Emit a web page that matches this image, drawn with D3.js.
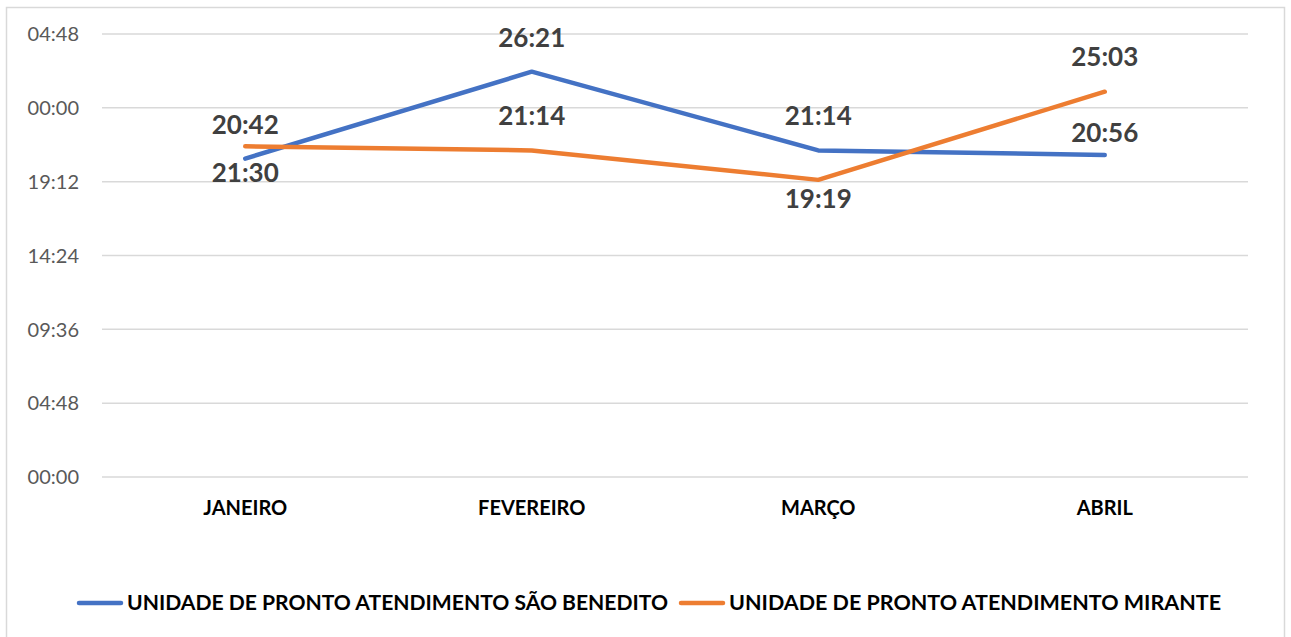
<!DOCTYPE html>
<html>
<head>
<meta charset="utf-8">
<script src="https://cdn.jsdelivr.net/npm/d3@7"></script>
<style>
  body { margin: 0; background: #fff; }
  text { font-family: Lato, "Open Sans", sans-serif; }
</style>
</head>
<body>
<div id="chart"></div>
<script>
const months = ["JANEIRO", "FEVEREIRO", "MARÇO", "ABRIL"];
const saoBenedito = ["20:42", "26:21", "21:14", "20:56"];
const mirante = ["21:30", "21:14", "19:19", "25:03"];
const seriesNames = [
  "UNIDADE DE PRONTO ATENDIMENTO SÃO BENEDITO",
  "UNIDADE DE PRONTO ATENDIMENTO MIRANTE"
];
const tickValues = [0, 288, 576, 864, 1152, 1440, 1728]; // minutes

// label placement per point (Excel had them dragged around a bit)
const labelDy = [
  [-34, -34, -35, -22],
  [26, -35, 19, -35]
];

const width = 1291, height = 637;
const toMin = (s) => {
  const [h, m] = s.split(":").map(Number);
  return h * 60 + m;
};
const fmt = (m) => {
  const h = Math.floor(m / 60) % 24;
  return String(h).padStart(2, "0") + ":" + String(m % 60).padStart(2, "0");
};

const series = [
  { name: seriesNames[0], color: "#4472C4", values: saoBenedito },
  { name: seriesNames[1], color: "#ED7D31", values: mirante }
];

const svg = d3
  .select("#chart")
  .append("svg")
  .attr("width", width)
  .attr("height", height);

svg
  .append("rect")
  .attr("x", 6.5)
  .attr("y", 7.5)
  .attr("width", 1278)
  .attr("height", 640)
  .attr("fill", "#fff")
  .attr("stroke", "#d9d9d9")
  .attr("stroke-width", 1.5);

const x = d3.scaleBand().domain(months).range([102, 1248]);
const y = d3.scaleLinear().domain([0, 1728]).range([477, 34]);

// gridlines
svg
  .append("g")
  .selectAll("line")
  .data(tickValues)
  .enter()
  .append("line")
  .attr("x1", 102)
  .attr("x2", 1248)
  .attr("y1", (d) => y(d))
  .attr("y2", (d) => y(d))
  .attr("stroke", "#d9d9d9")
  .attr("stroke-width", 1.5);

// y tick labels
svg
  .append("g")
  .selectAll("text")
  .data(tickValues)
  .enter()
  .append("text")
  .attr("x", 79)
  .attr("y", (d) => y(d))
  .attr("dy", "0.36em")
  .attr("text-anchor", "end")
  .attr("font-size", 20)
  .attr("fill", "#595959")
  .text((d) => fmt(d));

// category labels
svg
  .append("g")
  .selectAll("text")
  .data(months)
  .enter()
  .append("text")
  .attr("x", (d) => x(d) + x.bandwidth() / 2)
  .attr("y", 508)
  .attr("dy", "0.36em")
  .attr("text-anchor", "middle")
  .attr("font-size", 20)
  .attr("font-weight", "bold")
  .attr("fill", "#000")
  .text((d) => d);

const line = d3
  .line()
  .x((d, i) => x(months[i]) + x.bandwidth() / 2)
  .y((d) => y(toMin(d)));

svg
  .append("g")
  .selectAll("path")
  .data(series)
  .enter()
  .append("path")
  .attr("d", (d) => line(d.values))
  .attr("fill", "none")
  .attr("stroke", (d) => d.color)
  .attr("stroke-width", 4.5)
  .attr("stroke-linecap", "round")
  .attr("stroke-linejoin", "round");

// data labels
series.forEach((s, si) => {
  svg
    .append("g")
    .selectAll("text")
    .data(s.values)
    .enter()
    .append("text")
    .attr("x", (d, i) => x(months[i]) + x.bandwidth() / 2)
    .attr("y", (d, i) => y(toMin(d)) + labelDy[si][i])
    .attr("dy", "0.36em")
    .attr("text-anchor", "middle")
    .attr("font-size", 26)
    .attr("font-weight", "bold")
    .attr("fill", "#404040")
    .text((d) => d);
});

// legend
const legend = svg
  .append("g")
  .selectAll("g")
  .data(series)
  .enter()
  .append("g")
  .attr("transform", (d, i) => `translate(${i === 0 ? 77 : 679}, 603)`);

legend
  .append("line")
  .attr("x1", 2)
  .attr("x2", 44)
  .attr("stroke", (d) => d.color)
  .attr("stroke-width", 4.5)
  .attr("stroke-linecap", "round");

legend
  .append("text")
  .attr("x", 50)
  .attr("dy", "0.36em")
  .attr("font-size", 20)
  .attr("font-weight", "bold")
  .attr("fill", "#000")
  .attr("textLength", (d, i) => (i === 0 ? 541 : 492))
  .attr("lengthAdjust", "spacingAndGlyphs")
  .text((d) => d.name);
</script>
</body>
</html>
